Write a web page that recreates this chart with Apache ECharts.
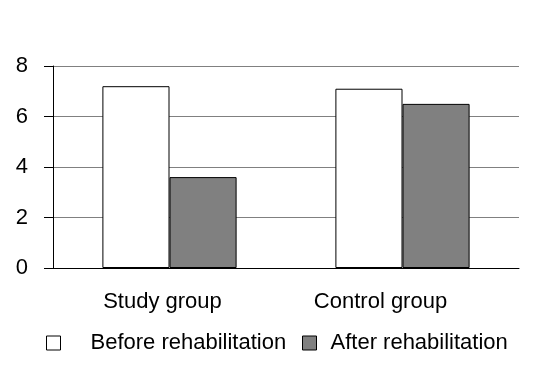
<!DOCTYPE html>
<html><head><meta charset="utf-8">
<script src="https://cdn.jsdelivr.net/npm/echarts@6/dist/echarts.min.js"></script>
<style>html,body{margin:0;padding:0;background:#fff}#c{width:535px;height:387px}</style>
</head><body><div id="c"></div>
<script>
var categories = ['Study group', 'Control group'];
var beforeValues = [7.2, 7.1];
var afterValues = [3.6, 6.5];
var seriesNames = ['Before rehabilitation', 'After rehabilitation'];
var yTicks = [0, 2, 4, 6, 8];

var font = 'Liberation Sans, Arial, sans-serif';
var fs = 22;
var chart = echarts.init(document.getElementById('c'));
chart.setOption({
  animation: false,
  backgroundColor: '#fff',
  grid: {left: 53, right: 16, top: 66, bottom: 119, containLabel: false},
  legend: [{
    data: [seriesNames[0]], left: 41, top: 327, itemWidth: 14, itemHeight: 14,
    icon: 'rect', itemStyle: {borderWidth: 1},
    textStyle: {fontFamily: font, fontSize: fs, color: '#000', padding: [0, 0, 0, 25]}
  }, {
    data: [seriesNames[1]], left: 297, top: 327, itemWidth: 14, itemHeight: 14,
    icon: 'rect', itemStyle: {borderWidth: 1},
    textStyle: {fontFamily: font, fontSize: fs, color: '#000', padding: [0, 0, 0, 9]}
  }],
  xAxis: {
    type: 'category', data: categories,
    axisLine: {lineStyle: {color: '#000', width: 1}},
    axisTick: {show: false},
    axisLabel: {
      fontFamily: font, fontSize: fs, color: '#000', margin: 23,
      formatter: function (v, i) { return i === 0 ? '{a|' + v + '}' : '{b|' + v + '}'; },
      rich: {
        a: {fontFamily: font, fontSize: fs, color: '#000', padding: [0, 14, 0, 0]},
        b: {fontFamily: font, fontSize: fs, color: '#000', padding: [0, 44, 0, 0]}
      }
    }
  },
  yAxis: {
    type: 'value', min: yTicks[0], max: yTicks[yTicks.length - 1], interval: 2,
    axisLine: {show: true, lineStyle: {color: '#000', width: 1}},
    axisTick: {show: true, length: 9, lineStyle: {color: '#000'}},
    axisLabel: {fontFamily: font, fontSize: fs, color: '#000', margin: 25},
    splitLine: {lineStyle: {color: '#808080', width: 1}}
  },
  series: [{
    name: seriesNames[0], type: 'bar', data: beforeValues,
    barWidth: '28.8%', barGap: '0%',
    itemStyle: {color: '#fff', borderColor: '#000', borderWidth: 1}
  }, {
    name: seriesNames[1], type: 'bar', data: afterValues,
    barWidth: '28.8%', barGap: '0%',
    itemStyle: {color: '#808080', borderColor: '#000', borderWidth: 1}
  }]
});
</script></body></html>
